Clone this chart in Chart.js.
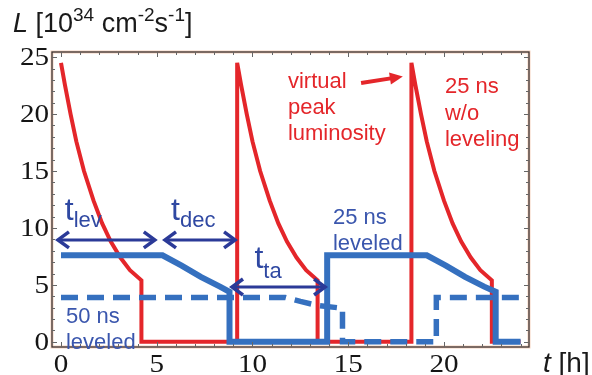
<!DOCTYPE html>
<html>
<head>
<meta charset="utf-8">
<script src="https://cdn.jsdelivr.net/npm/chart.js@4"></script>
<style>
  html, body { margin: 0; padding: 0; background: #fff; }
  #wrap { width: 592px; height: 375px; }
</style>
</head>
<body>
<div id="wrap"><canvas id="lumiChart" width="592" height="375"></canvas></div>
<script>
// Values: time t [h], luminosity L [1e34 cm^-2 s^-1]

// 25 ns without leveling (red)
const redT = [0, 0.2, 0.5, 0.8, 1.2, 1.7, 2.15, 2.6, 3.1, 3.6, 4.2, 4.2,
              9.2, 9.2, 9.4, 9.7, 10.0, 10.4, 10.9, 11.35, 11.8, 12.3, 12.8, 13.4, 13.4,
              18.3, 18.3, 18.5, 18.8, 19.1, 19.5, 20.0, 20.45, 20.9, 21.4, 21.9, 22.5, 22.5, 24.0];
const redL = [24.5, 22.6, 20.0, 17.6, 15.0, 12.4, 10.4, 8.8, 7.4, 6.3, 5.4, 0,
              0, 24.5, 22.6, 20.0, 17.6, 15.0, 12.4, 10.4, 8.8, 7.4, 6.3, 5.4, 0,
              0, 24.5, 22.6, 20.0, 17.6, 15.0, 12.4, 10.4, 8.8, 7.4, 6.3, 5.4, 0, 0];

// 25 ns leveled (blue solid)
const blueT = [0, 5.3, 6.3, 7.3, 8.3, 8.8, 8.8, 13.9, 13.9, 19.1, 20.1, 21.1, 22.1, 22.7, 22.7, 24.0];
const blueL = [7.6, 7.6, 6.7, 5.7, 4.85, 4.4, 0, 0, 7.6, 7.6, 6.7, 5.7, 4.85, 4.4, 0, 0];

// 50 ns leveled (blue dashed)
const dashT = [0, 11.7, 12.5, 13.4, 14.7, 14.7, 19.6, 19.6, 24.0];
const dashL = [3.9, 3.9, 3.55, 3.2, 2.95, 0, 0, 3.9, 3.9];

const xTicks = [0, 5, 10, 15, 20];
const yTicks = [0, 5, 10, 15, 20, 25];

const RED = '#e4262a';
const BLUE = '#3570bf';
const NAVY = '#2b3a98';
const TXTBLUE = '#3a56ad';
const SANS = '"Liberation Sans", Arial, sans-serif';
const SERIF = '26px "Liberation Serif", "Times New Roman", serif';

function toPoints(xs, ys) {
    return xs.map((x, i) => ({ x: x, y: ys[i] }));
}

// draws text made of pieces [text, font, dy]
function drawRich(ctx, x, y, parts, color) {
    ctx.fillStyle = color;
    ctx.textBaseline = 'alphabetic';
    ctx.textAlign = 'left';
    parts.forEach(p => {
        ctx.font = p[1];
        ctx.fillText(p[0], x, y + (p[2] || 0));
        x += ctx.measureText(p[0]).width;
    });
}

// serif tick label, a bit wider like the original plot
function tickText(ctx, txt, x, y, align, base) {
    ctx.save();
    ctx.translate(x, y);
    ctx.scale(1.12, 1);
    ctx.font = SERIF;
    ctx.fillStyle = '#151515';
    ctx.textAlign = align;
    ctx.textBaseline = base;
    ctx.fillText(txt, 0, 0);
    ctx.restore();
}

function arrowHead(ctx, x, y, dir, len, half) {
    ctx.beginPath();
    ctx.moveTo(x - dir * len, y - half);
    ctx.lineTo(x, y);
    ctx.lineTo(x - dir * len, y + half);
    ctx.stroke();
}

function doubleArrow(ctx, x1, x2, y) {
    ctx.save();
    ctx.strokeStyle = NAVY;
    ctx.lineWidth = 3;
    ctx.lineJoin = 'miter';
    ctx.beginPath();
    ctx.moveTo(x1 + 2, y);
    ctx.lineTo(x2 - 2, y);
    ctx.stroke();
    ctx.lineWidth = 3.5;
    arrowHead(ctx, x1, y, -1, 11, 8);
    arrowHead(ctx, x2, y, 1, 11, 8);
    ctx.restore();
}

const frameTicks = {
    id: 'frameTicks',
    afterDraw(chart) {
        const { ctx, chartArea: a, scales: { x, y } } = chart;
        ctx.save();
        // soft halo then dark frame
        ctx.strokeStyle = '#f6d2bd';
        ctx.lineWidth = 3;
        ctx.strokeRect(a.left, a.top, a.right - a.left, a.bottom - a.top);
        ctx.strokeStyle = '#3b3333';
        ctx.lineWidth = 1.3;
        ctx.strokeRect(a.left, a.top, a.right - a.left, a.bottom - a.top);

        ctx.strokeStyle = '#666';
        ctx.lineWidth = 1;
        ctx.beginPath();
        for (let v = 0; v <= 24; v++) {
            const px = Math.round(x.getPixelForValue(v)) + 0.5;
            const len = v % 5 === 0 ? 5 : 3;
            ctx.moveTo(px, a.bottom); ctx.lineTo(px, a.bottom - len);
            ctx.moveTo(px, a.top); ctx.lineTo(px, a.top + len);
        }
        for (let v = 0; v <= 25; v++) {
            const py = Math.round(y.getPixelForValue(v)) + 0.5;
            const len = v % 5 === 0 ? 5 : 3;
            ctx.moveTo(a.left, py); ctx.lineTo(a.left + len, py);
            ctx.moveTo(a.right, py); ctx.lineTo(a.right - len, py);
        }
        ctx.stroke();

        // tick labels from the scales' own ticks
        x.ticks.forEach(t => tickText(ctx, String(t.value), x.getPixelForValue(t.value), a.bottom + 25, 'center', 'alphabetic'));
        y.ticks.forEach(t => tickText(ctx, String(t.value), a.left - 3, y.getPixelForValue(t.value) + 1, 'right', 'middle'));

        const X = v => x.getPixelForValue(v);
        const Y = v => y.getPixelForValue(v);

        // axis titles
        drawRich(ctx, 13, 32, [
            ['L', 'italic 27px ' + SANS],
            [' [10', '27px ' + SANS],
            ['34', '19px ' + SANS, -11],
            [' cm', '27px ' + SANS],
            ['-2', '19px ' + SANS, -11],
            ['s', '27px ' + SANS],
            ['-1', '19px ' + SANS, -11],
            [']', '27px ' + SANS]
        ], '#1a1a1a');
        drawRich(ctx, 543, 372, [
            ['t', 'italic 28px ' + SANS],
            [' [h]', '28px ' + SANS]
        ], '#1a1a1a');

        // red annotations
        ctx.fillStyle = RED;
        ctx.font = '22px ' + SANS;
        ctx.fillText('virtual', X(11.85), Y(22.3));
        ctx.fillText('peak', X(11.85), Y(20.0));
        ctx.fillText('luminosity', X(11.85), Y(17.7));
        ctx.fillText('25 ns', X(20.05), Y(21.85));
        ctx.fillText('w/o', X(20.05), Y(19.5));
        ctx.fillText('leveling', X(20.05), Y(17.2));

        // red arrow to the virtual peak
        const ax1 = X(15.67), ay1 = Y(22.72), ax2 = X(17.85), ay2 = Y(23.3);
        const ang = Math.atan2(ay2 - ay1, ax2 - ax1);
        ctx.strokeStyle = RED;
        ctx.lineWidth = 4;
        ctx.beginPath();
        ctx.moveTo(ax1, ay1);
        ctx.lineTo(ax2 - 9 * Math.cos(ang), ay2 - 9 * Math.sin(ang));
        ctx.stroke();
        ctx.beginPath();
        ctx.moveTo(ax2, ay2);
        ctx.lineTo(ax2 - 13 * Math.cos(ang) + 6 * Math.sin(ang), ay2 - 13 * Math.sin(ang) - 6 * Math.cos(ang));
        ctx.lineTo(ax2 - 13 * Math.cos(ang) - 6 * Math.sin(ang), ay2 - 13 * Math.sin(ang) + 6 * Math.cos(ang));
        ctx.closePath();
        ctx.fill();

        // blue time-interval arrows
        doubleArrow(ctx, X(-0.16), X(4.9), Y(8.95));
        doubleArrow(ctx, X(5.43), X(9.09), Y(8.95));
        doubleArrow(ctx, X(8.93), X(13.79), Y(4.82));

        drawRich(ctx, X(0.2), Y(10.7), [['t', '32px ' + SANS], ['lev', '22px ' + SANS, 7]], '#2f48a2');
        drawRich(ctx, X(5.75), Y(10.7), [['t', '32px ' + SANS], ['dec', '22px ' + SANS, 7]], '#2f48a2');
        drawRich(ctx, X(10.1), Y(6.5), [['t', '32px ' + SANS], ['ta', '22px ' + SANS, 10]], '#2f48a2');

        ctx.fillStyle = TXTBLUE;
        ctx.font = '22px ' + SANS;
        ctx.fillText('25 ns', X(14.2), Y(10.35));
        ctx.fillText('leveled', X(14.2), Y(8.05));
        ctx.fillText('50 ns', X(0.26), Y(1.67));
        ctx.fillText('leveled', X(0.26), Y(-0.62));
        ctx.restore();
    }
};

new Chart(document.getElementById('lumiChart'), {
    type: 'line',
    data: {
        datasets: [
            {
                label: '50 ns leveled',
                data: toPoints(dashT, dashL),
                borderColor: BLUE,
                borderWidth: 5.5,
                borderDash: [17, 9],
                order: 0
            },
            {
                label: '25 ns leveled',
                data: toPoints(blueT, blueL),
                borderColor: BLUE,
                borderWidth: 6,
                order: 1
            },
            {
                label: '25 ns w/o leveling',
                data: toPoints(redT, redL),
                borderColor: RED,
                borderWidth: 4,
                order: 2
            }
        ]
    },
    options: {
        responsive: false,
        animation: false,
        events: [],
        elements: {
            point: { radius: 0 },
            line: { tension: 0, fill: false, borderJoinStyle: 'miter' }
        },
        layout: { padding: { top: 52, right: 63, left: 0, bottom: 0 } },
        plugins: {
            legend: { display: false },
            tooltip: { enabled: false }
        },
        scales: {
            x: {
                type: 'linear',
                min: -0.47,
                max: 24.44,
                grid: { display: false, drawTicks: false },
                border: { display: false },
                ticks: { display: false },
                afterBuildTicks: s => { s.ticks = xTicks.map(v => ({ value: v })); },
                afterFit: s => { s.height = 28; }
            },
            y: {
                min: -0.45,
                max: 25.45,
                grid: { display: false, drawTicks: false },
                border: { display: false },
                ticks: { display: false },
                afterBuildTicks: s => { s.ticks = yTicks.map(v => ({ value: v })); },
                afterFit: s => { s.width = 52; }
            }
        }
    },
    plugins: [frameTicks]
});
</script>
</body>
</html>
